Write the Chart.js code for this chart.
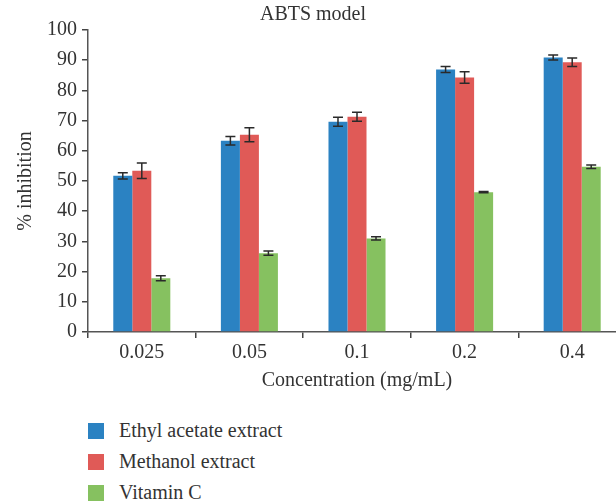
<!DOCTYPE html>
<html>
<head>
<meta charset="utf-8">
<script src="https://cdn.jsdelivr.net/npm/chart.js@4"></script>
<style>
  body { margin: 0; overflow: hidden; background: #fff; width: 616px; height: 504px; }
  #wrap { position: absolute; left: 0; top: 0; width: 632px; height: 393px; }
  #legend { position: absolute; left: 88px; top: 415px; font-family: "Liberation Serif", serif; font-size: 20px; color: #333; }
  .item { height: 31px; display: flex; align-items: center; }
  .box { width: 16px; height: 16px; margin-right: 15px; }
</style>
</head>
<body>
<div id="wrap"><canvas id="chart"></canvas></div>
<div id="legend"></div>
<script>
let labels = ["0.025", "0.05", "0.1", "0.2", "0.4"];
let seriesNames = ["Ethyl acetate extract", "Methanol extract", "Vitamin C"];
let seriesColors = ["#2b82c2", "#e05a57", "#86c160"];
let ethylAcetate = [51.7, 63.3, 69.6, 86.9, 90.9];
let ethylErr = [1.0, 1.4, 1.5, 1.0, 0.8];
let methanol = [53.4, 65.3, 71.3, 84.3, 89.3];
let methanolErr = [2.6, 2.3, 1.5, 1.9, 1.4];
let vitaminC = [17.8, 26.1, 31.0, 46.3, 54.7];
let vitaminErr = [0.8, 0.7, 0.5, 0.2, 0.6];

let values = [ethylAcetate, methanol, vitaminC];
let errors = [ethylErr, methanolErr, vitaminErr];

// error bars drawn from the y scale
let errorBars = {
    id: "errorBars",
    afterDatasetsDraw(chart) {
        let ctx = chart.ctx;
        let y = chart.scales.y;
        ctx.save();
        ctx.strokeStyle = "#2a2a2a";
        ctx.lineWidth = 1.5;
        chart.data.datasets.forEach((ds, d) => {
            let meta = chart.getDatasetMeta(d);
            meta.data.forEach((bar, i) => {
                let v = ds.data[i];
                let e = errors[d][i];
                let top = y.getPixelForValue(v + e);
                let bot = y.getPixelForValue(v - e);
                let cx = bar.x;
                ctx.beginPath();
                ctx.moveTo(cx, top); ctx.lineTo(cx, bot);
                ctx.moveTo(cx - 5, top); ctx.lineTo(cx + 5, top);
                ctx.moveTo(cx - 5, bot); ctx.lineTo(cx + 5, bot);
                ctx.stroke();
            });
        });
        ctx.restore();
    }
};

let font = { family: "'Liberation Serif', serif", size: 20, weight: "normal" };

new Chart(document.getElementById("chart"), {
    type: "bar",
    data: {
        labels: labels,
        datasets: values.map((v, i) => ({
            label: seriesNames[i],
            data: v,
            backgroundColor: seriesColors[i],
            barPercentage: 1.0,
            categoryPercentage: 0.53
        }))
    },
    options: {
        responsive: true,
        maintainAspectRatio: false,
        animation: false,
        layout: { padding: { left: 0, right: 6, top: 0, bottom: 0 } },
        plugins: {
            legend: { display: false },
            tooltip: { enabled: false },
            title: {
                display: true,
                text: "ABTS model",
                color: "#333",
                font: font,
                padding: { top: 3, bottom: 3 }
            }
        },
        scales: {
            x: {
                grid: { display: true, drawOnChartArea: false, offset: true, color: "#444", tickLength: 6, lineWidth: 1.5 },
                border: { color: "#555", width: 1.5 },
                ticks: { color: "#333", font: font, padding: 3 },
                title: { display: true, text: "Concentration (mg/mL)", color: "#333", font: font, padding: { top: 1, bottom: 0 } }
            },
            y: {
                min: 0,
                max: 100,
                afterFit(scale) { scale.width = 88; },
                grid: { display: true, drawOnChartArea: false, color: "#444", tickLength: 6, lineWidth: 1.5 },
                border: { color: "#555", width: 1.5 },
                ticks: { stepSize: 10, color: "#333", font: font, padding: 5 },
                title: { display: true, text: "% inhibition", color: "#333", font: font, padding: { top: 14, bottom: 0 } }
            }
        }
    },
    plugins: [errorBars]
});

let legend = document.getElementById("legend");
seriesNames.forEach((name, i) => {
    let row = document.createElement("div");
    row.className = "item";
    row.innerHTML = '<span class="box" style="background:' + seriesColors[i] + '"></span>' + name;
    legend.appendChild(row);
});
</script>
</body>
</html>
